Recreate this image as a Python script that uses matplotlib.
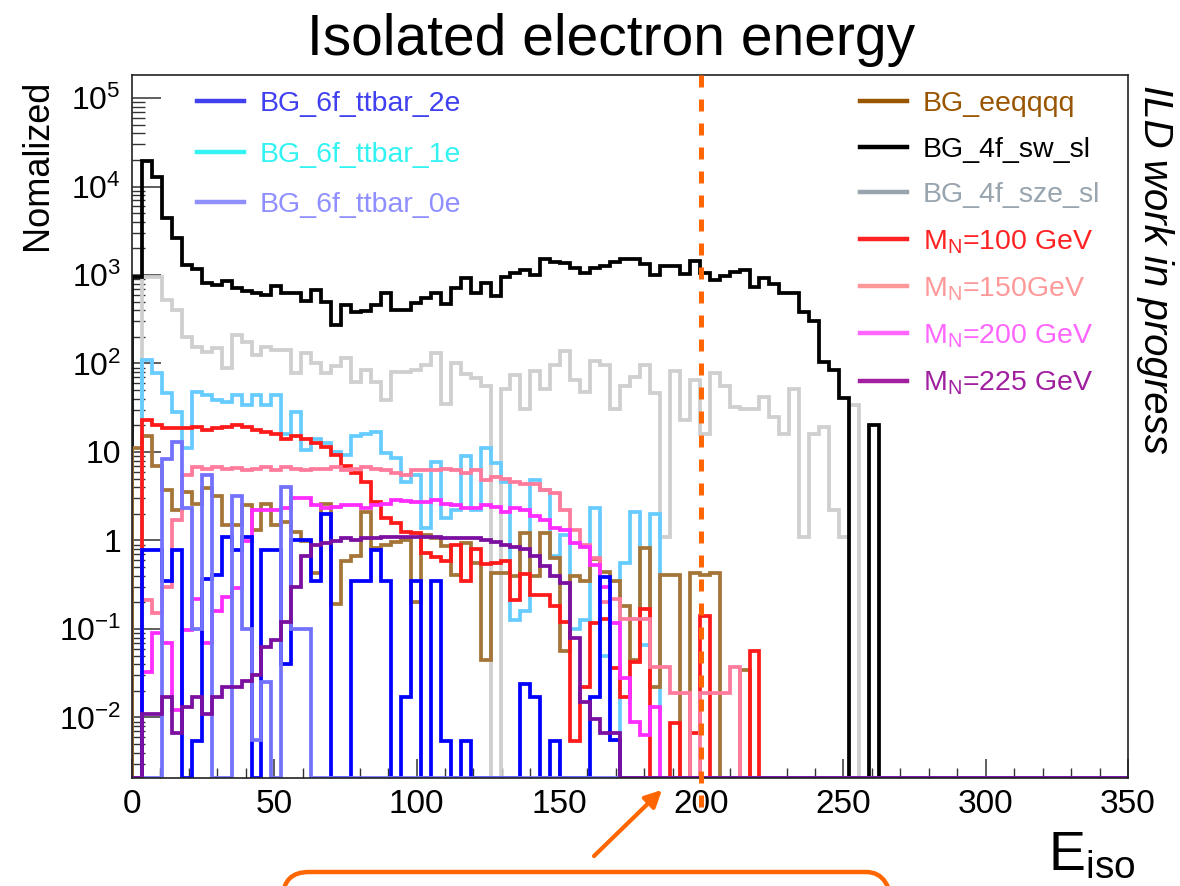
import numpy as np
import matplotlib
matplotlib.use('Agg')
import matplotlib.pyplot as plt
from matplotlib.lines import Line2D
from matplotlib.patches import FancyBboxPatch, FancyArrowPatch
from matplotlib.ticker import FixedLocator, LogLocator, MultipleLocator, NullFormatter

plt.rcParams['font.family'] = ['Liberation Sans', 'DejaVu Sans']
plt.rcParams['mathtext.fontset'] = 'custom'
plt.rcParams['mathtext.rm'] = 'Liberation Sans'
plt.rcParams['mathtext.it'] = 'Liberation Sans:italic'
plt.rcParams['mathtext.bf'] = 'Liberation Sans:bold'

# 100 bins of 3.5 GeV from 0 to 350, contents (tail bins are empty)
n_bins = 100
e_lo, e_hi = 0, 350
y_lo, y_hi = 2.07e-3, 1.82e5
e_cut = 200

bg_4f_sw_sl = [950, 19500, 12900, 4400, 2600, 1300, 1170, 810, 780, 850,
               710, 660, 620, 590, 760, 630, 620, 510, 680, 500,
               275, 460, 380, 390, 460, 620, 400, 400, 480, 550,
               620, 470, 710, 930, 620, 810, 585, 960, 1040, 1140,
               1000, 1500, 1390, 1350, 1200, 1060, 1200, 1270, 1410, 1500,
               1510, 1320, 1000, 1270, 1270, 1020, 1440, 1060, 870, 970,
               1090, 1140, 740, 920, 785, 620, 620, 385, 300, 105,
               85, 41, 0, 0, 20]
bg_4f_sze_sl = [0, 950, 950, 520, 400, 200, 155, 135, 150, 89,
                210, 175, 125, 155, 141, 141, 78, 132, 100, 78,
                93, 115, 62, 85, 62, 39, 81, 81, 85, 96,
                130, 35, 100, 77, 68, 55, 0, 52, 74, 31,
                82, 52, 96, 138, 65, 48, 107, 96, 31, 55,
                71, 96, 46, 1.1, 82, 23, 65, 16, 78, 55,
                32, 31, 31, 42, 25, 16, 52, 1.1, 16, 19,
                2.2, 1.1, 34]
bg_6f_ttbar_1e = [0, 110, 78, 47, 28, 11, 48, 44, 39, 37,
                  44, 34, 44, 34, 44, 16, 28, 10.5, 14, 12.6,
                  10, 9.3, 15, 16, 17, 9.8, 8.5, 4.6, 5.5, 1.4,
                  7.8, 1.8, 2.2, 8.9, 2.2, 11, 7.6, 4.6, 0.126, 0.16,
                  4.8, 3.7, 0.66, 1.15, 0.10, 0.126, 2.3, 0.049, 0.0056, 0.56,
                  2.1, 0.066, 2.0]
bg_eeqqqq = [11, 15, 7, 3.7, 2.2, 3.5, 2.6, 3.9, 3.2, 1.5,
             1.5, 2.5, 1.3, 2.6, 1.5, 1.6, 1.26, 0.98, 0.43, 2.6,
             0.19, 0.58, 0.66, 2.1, 0.83, 0.9, 0.95, 1.0, 0.2, 1.15,
             1.07, 0.86, 0.41, 0.94, 0.56, 0.045, 0.43, 0.43, 0.40, 1.2,
             0.40, 1.2, 0.63, 0.057, 0.40, 0.35, 0.61, 0.44, 0.35, 0.18,
             0.045, 0.83, 0.022, 0.41, 0.41, 0, 0.43, 0.41, 0.43, 0,
             0, 0.034]
mn_100 = [0, 23, 20, 18.5, 18.5, 18.5, 19, 17.7, 18.5, 19,
          20, 19, 17.7, 17, 16, 14, 15, 14, 12.6, 11.5,
          9.3, 7, 5.8, 4.6, 2.7, 1.8, 1.58, 1.26, 1.2, 0.72,
          0.65, 0.58, 0.89, 0.35, 0.8, 0.54, 0.55, 0.58, 0.21, 0.42,
          0.24, 0.24, 0.18, 0.12, 0.0054, 0.022, 0.117, 0.13, 0.036, 0.017,
          0.042, 0.17, 0, 0, 0.0087, 0, 0.0066, 0.14, 0, 0,
          0, 0, 0.057]
mn_150 = [0, 0.21, 0.15, 0.30, 1.7, 5.5, 6.8, 6.5, 6.8, 6.5,
          6.6, 6.3, 6.5, 6.8, 6.3, 6.8, 6.5, 6.3, 6.5, 6.5,
          6.8, 6.3, 6.5, 6.8, 6.5, 6.2, 5.8, 5.5, 6.3, 6.3,
          6.3, 6.5, 6.3, 5.8, 6.3, 4.8, 5.2, 5.0, 4.6, 4.4,
          4.3, 3.7, 3.4, 2.2, 1.3, 0.9, 0.63, 0.2, 0.22, 0.13,
          0.13, 0.13, 0.037, 0.037, 0.019, 0.019, 0, 0.019, 0.019, 0.019,
          0.037]
mn_200 = [0, 0.033, 0.089, 0.069, 0.012, 0.098, 0.22, 0.069, 0.16, 0.23,
          0.29, 0.98, 2.2, 2.2, 2.2, 2.3, 3.0, 3.0, 2.5, 2.3,
          2.4, 2.5, 2.5, 2.3, 2.5, 2.6, 2.9, 2.8, 2.7, 2.7,
          2.9, 2.6, 2.5, 2.3, 2.3, 2.5, 2.4, 2.1, 2.3, 2.2,
          1.9, 1.7, 1.4, 1.3, 0.93, 0.85, 0.53, 0.3, 0.117, 0.028,
          0.009, 0.0063, 0.013]
mn_225 = [0, 0.011, 0.011, 0.017, 0.0066, 0.013, 0.017, 0.011, 0.017, 0.022,
          0.022, 0.026, 0.030, 0.063, 0.076, 0.12, 0.30, 0.66, 0.89, 0.93,
          0.98, 1.07, 1.0, 1.07, 1.07, 1.1, 1.1, 1.1, 1.1, 1.1,
          1.1, 1.07, 1.07, 1.07, 1.07, 1.0, 0.95, 0.89, 0.85, 0.80,
          0.66, 0.51, 0.40, 0.33, 0.079, 0.015, 0.0095, 0.0066, 0.0066]
bg_6f_ttbar_2e = [0, 0.78, 0.78, 0.35, 0.78, 0, 0.0054, 0.37, 0.41, 1.1,
                  0.78, 1.1, 0, 0.78, 0.78, 0.04, 1.0, 1.0, 0.35, 2.0,
                  0, 0, 0.35, 0.35, 0.78, 0.35, 0, 0.017, 0.35, 0,
                  0.35, 0.0054, 0, 0.0054, 0, 0, 0, 0, 0, 0.024,
                  0.017, 0, 0.0054, 0, 0, 0, 0.017, 0.39, 0.0056]
bg_6f_ttbar_0e = [0, 0, 0, 8.3, 13, 2.3, 0.1, 5.5, 0, 0,
                  3.2, 0.1, 0.0056, 0.025, 0, 4.0, 0.1, 0.1]

# (values, histogram colour, legend colour, label), in drawing order
series = [
    (bg_4f_sze_sl, '#cfcfcf', '#98a4ae', 'BG_4f_sze_sl'),
    (bg_4f_sw_sl, '#000000', '#000000', 'BG_4f_sw_sl'),
    (bg_6f_ttbar_1e, '#66ccff', '#33f2f2', 'BG_6f_ttbar_1e'),
    (bg_eeqqqq, '#a57538', '#995500', 'BG_eeqqqq'),
    (mn_100, '#ff1a1a', '#ff2222', r'M$_{\rm N}$=100 GeV'),
    (mn_150, '#ff7b9c', '#ff9999', r'M$_{\rm N}$=150GeV'),
    (mn_200, '#ff2bff', '#ff66ff', r'M$_{\rm N}$=200 GeV'),
    (bg_6f_ttbar_2e, '#0000ff', '#4040f0', 'BG_6f_ttbar_2e'),
    (bg_6f_ttbar_0e, '#7272ff', '#8f8fff', 'BG_6f_ttbar_0e'),
    (mn_225, '#7a0fa0', '#a020a0', r'M$_{\rm N}$=225 GeV'),
]

edges = np.linspace(e_lo, e_hi, n_bins + 1)


def to_bins(v):
    v = np.asarray(v, dtype=float)
    v = np.concatenate([v, np.zeros(n_bins - len(v))])
    # empty bins sit on the bottom of the frame, as in ROOT
    return np.where(v > 0, v, y_lo)


fig = plt.figure(figsize=(11.8, 8.86), dpi=100)
ax = fig.add_axes([132 / 1180, 1 - 778 / 886, 996 / 1180, 703 / 886])

for vals, col, _, _ in series:
    ax.stairs(to_bins(vals), edges, color=col, lw=2.7, baseline=y_lo, zorder=2)

ax.set_yscale('log')
ax.set_xlim(e_lo, e_hi)
ax.set_ylim(y_lo, y_hi)

ax.yaxis.set_major_locator(FixedLocator([1e-2, 1e-1, 1, 10, 1e2, 1e3, 1e4, 1e5]))
ax.set_yticklabels([r'$10^{-2}$', r'$10^{-1}$', '1', '10',
                    r'$10^{2}$', r'$10^{3}$', r'$10^{4}$', r'$10^{5}$'])
ax.yaxis.set_minor_locator(LogLocator(base=10, subs=np.arange(2, 10), numticks=100))
ax.yaxis.set_minor_formatter(NullFormatter())
ax.xaxis.set_major_locator(MultipleLocator(50))
ax.xaxis.set_minor_locator(MultipleLocator(10))

ax.tick_params(axis='both', which='both', direction='in', top=False, right=False,
               color='#333333')
ax.tick_params(axis='y', which='major', length=21, width=1.1, labelsize=23, pad=8)
ax.tick_params(axis='y', which='minor', length=9, width=1.0)
ax.tick_params(axis='x', which='major', length=14, width=1.1, labelsize=24, pad=8)
ax.tick_params(axis='x', which='minor', length=7, width=1.0)
for s in ax.spines.values():
    s.set_linewidth(1.2)
    s.set_color('#222222')

# cut line at 200 GeV
ax.plot([e_cut, e_cut], [1.0, -0.045], transform=ax.get_xaxis_transform(),
        color='#ff6600', lw=3.6, ls=(0, (2.4, 2.4)), clip_on=False, zorder=5)

# legends
fs_leg = 20.5
by_label = {lab: (hc, lc) for _, hc, lc, lab in series}
left_labels = ['BG_6f_ttbar_2e', 'BG_6f_ttbar_1e', 'BG_6f_ttbar_0e']
right_labels = ['BG_eeqqqq', 'BG_4f_sw_sl', 'BG_4f_sze_sl', r'M$_{\rm N}$=100 GeV',
                r'M$_{\rm N}$=150GeV', r'M$_{\rm N}$=200 GeV', r'M$_{\rm N}$=225 GeV']

leg1 = ax.legend([Line2D([], [], color=by_label[l][1], lw=3.2) for l in left_labels],
                 left_labels, loc='upper left', bbox_to_anchor=(0.065, 0.977),
                 frameon=False, fontsize=fs_leg, handlelength=1.65,
                 handletextpad=0.55, labelspacing=0.86, borderpad=0,
                 borderaxespad=0, labelcolor='linecolor')
ax.add_artist(leg1)
ax.legend([Line2D([], [], color=by_label[l][1], lw=3.2) for l in right_labels],
          right_labels, loc='upper left', bbox_to_anchor=(0.731, 0.977),
          frameon=False, fontsize=fs_leg, handlelength=1.65,
          handletextpad=0.55, labelspacing=0.69, borderpad=0,
          borderaxespad=0, labelcolor='linecolor')

# texts around the frame
fig.text(611 / 1180, 1 - 55 / 886, 'Isolated electron energy', fontsize=41,
         ha='center', va='baseline')
fig.text(38 / 1180, 1 - 165 / 886, 'Nomalized', fontsize=26, rotation=90,
         ha='center', va='center')
fig.text(1155 / 1180, 1 - 85 / 886, 'ILD work in progress', fontsize=29,
         style='italic', rotation=-90, ha='center', va='top')
fig.text(1048 / 1180, 1 - 870 / 886, r'E$_{\rm iso}$', fontsize=40,
         ha='left', va='baseline')

# annotation arrow and (cut-off) callout box
fig.add_artist(FancyArrowPatch((592 / 1180, 1 - 858 / 886), (664 / 1180, 1 - 788 / 886),
                               transform=fig.transFigure, arrowstyle='-|>',
                               mutation_scale=25, color='#ff6600', lw=3))
fig.add_artist(FancyBboxPatch((283 / 1180, -0.06), 609 / 1180, 0.06 + 1 - 872 / 886,
                              boxstyle='round,pad=0,rounding_size=0.022',
                              mutation_aspect=1.33, transform=fig.transFigure,
                              fill=False, ec='#ff6600', lw=3.2))

fig.savefig('out.png', dpi=100)
